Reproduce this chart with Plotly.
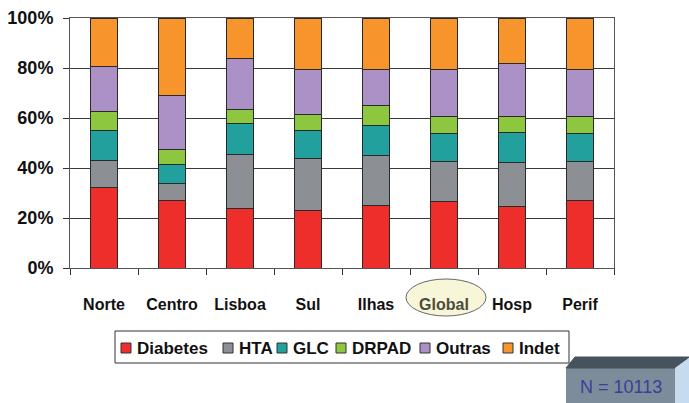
import plotly.graph_objects as go

categories = ["Norte", "Centro", "Lisboa", "Sul", "Ilhas", "Global", "Hosp", "Perif"]
diabetes = [32.1, 27.1, 23.8, 23.1, 25.1, 26.7, 24.5, 27.0]
hta      = [11.1, 6.7, 21.7, 20.6, 19.8, 15.8, 17.7, 15.5]
glc      = [11.7, 7.6, 12.4, 11.5, 12.2, 11.2, 11.9, 11.2]
drpad    = [7.9, 5.9, 5.7, 6.3, 8.0, 6.9, 6.6, 6.9]
outras   = [17.8, 21.6, 20.4, 17.8, 14.2, 18.7, 21.1, 18.7]
indet    = [19.4, 31.1, 16.0, 20.7, 20.7, 20.7, 18.2, 20.7]
series_names = ["Diabetes", "HTA", "GLC", "DRPAD", "Outras", "Indet"]
series_values = [diabetes, hta, glc, drpad, outras, indet]
colors = ["#ee2e2a", "#8c8f93", "#21a09e", "#8dc63f", "#ab91c5", "#f7952c"]
y_ticks = [0, 20, 40, 60, 80, 100]
y_ticklabels = ["0%", "20%", "40%", "60%", "80%", "100%"]
n_label = "N = 10113"

FONT = "Liberation Sans, Arial, sans-serif"

fig = go.Figure()
for name, vals, col in zip(series_names, series_values, colors):
    fig.add_trace(go.Bar(
        x=categories, y=vals, name=name, showlegend=False,
        marker=dict(color=col, line=dict(color="#2a2a2a", width=1)),
        width=0.4,
    ))

ticktext = [f"<span style='color:#4d4d3a'>{c}</span>" if c == "Global" else c for c in categories]

W, H = 689, 403
L, R, T, B = 70, 75, 18, 135
pw, ph = W - L - R, H - T - B

def px(x):
    return (x - L) / pw

def py(y):
    return (H - B - y) / ph

shapes = [
    # Global ellipse
    dict(type="circle", xref="paper", yref="paper",
         x0=px(406), x1=px(486), y0=py(316), y1=py(279),
         fillcolor="#f8f6d9", line=dict(color="#666666", width=1), layer="below"),
    # 3D box front
    dict(type="rect", xref="paper", yref="paper",
         x0=px(566), x1=px(675), y0=py(406), y1=py(368),
         fillcolor="#7d8c9b", line=dict(width=0)),
    # top face
    dict(type="path", xref="paper", yref="paper",
         path=f"M{px(566):.5f},{py(368):.5f}L{px(575):.5f},{py(357):.5f}L{px(690):.5f},{py(357):.5f}L{px(675):.5f},{py(368):.5f}Z",
         fillcolor="#46525c", opacity=1, line=dict(color="#46525c", width=1)),
    # right face
    dict(type="path", xref="paper", yref="paper",
         path=f"M{px(675):.5f},{py(368):.5f}L{px(690):.5f},{py(357):.5f}L{px(690):.5f},{py(406):.5f}L{px(675):.5f},{py(406):.5f}Z",
         fillcolor="#c6dcee", opacity=1, line=dict(width=0)),
    # legend box
    dict(type="rect", xref="paper", yref="paper",
         x0=px(115), x1=px(569), y0=py(363), y1=py(331),
         fillcolor="white", line=dict(color="#333333", width=1)),
]

annotations = [
    dict(text=n_label, xref="paper", yref="paper", x=px(621), y=py(387),
         xanchor="center", yanchor="middle", showarrow=False,
         font=dict(family=FONT, size=18, color="#3b3f98")),
]

# manual legend entries (square left edges in px)
legend_sq_x = [121, 223, 277, 336, 420, 503]
for sx, name, col in zip(legend_sq_x, series_names, colors):
    shapes.append(dict(type="rect", xref="paper", yref="paper",
                       x0=px(sx), x1=px(sx + 10), y0=py(353), y1=py(343),
                       fillcolor=col, line=dict(color="#333333", width=1)))
    annotations.append(dict(text=f"<b>{name}</b>", xref="paper", yref="paper",
                            x=px(sx + 14), y=py(348), xanchor="left", yanchor="middle",
                            showarrow=False,
                            font=dict(family=FONT, size=17, color="#111111")))

fig.update_layout(
    width=W, height=H,
    margin=dict(l=L, r=R, t=T, b=B, pad=0, autoexpand=False),
    paper_bgcolor="white", plot_bgcolor="white",
    barmode="stack",
    font=dict(family=FONT, color="#111111"),
    showlegend=False,
    shapes=shapes,
    annotations=annotations,
)
fig.update_xaxes(
    tickvals=categories, ticktext=ticktext, tickson="boundaries",
    ticks="outside", ticklen=6, tickcolor="#333333",
    tickfont=dict(family=FONT, size=16, weight="bold", color="#111111"),
    showline=True, linecolor="#555555", linewidth=1, mirror=True,
    showgrid=False, ticklabelstandoff=22, automargin=False,
)
fig.update_yaxes(
    range=[0, 100], tickvals=y_ticks, ticktext=y_ticklabels,
    ticks="outside", ticklen=6, tickcolor="#333333",
    tickfont=dict(family=FONT, size=18, weight="bold", color="#111111"),
    showline=True, linecolor="#555555", linewidth=1, mirror=True,
    showgrid=True, gridcolor="#3a3a3a", gridwidth=1, zeroline=False,
    ticklabelstandoff=6, automargin=False,
)

fig.write_html("out.html", config={"displayModeBar": False},
               post_script="document.body.style.margin='0px';document.body.style.overflow='hidden';")
